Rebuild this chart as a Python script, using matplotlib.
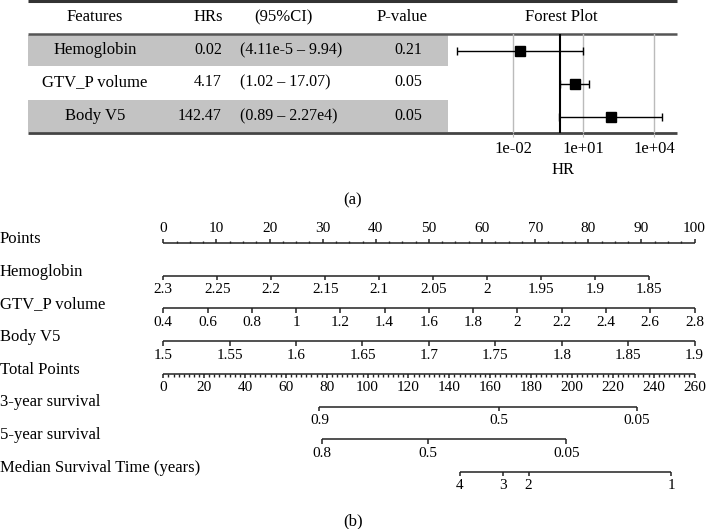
import numpy as np
import matplotlib
matplotlib.use("Agg")
import matplotlib.pyplot as plt
from matplotlib import transforms

plt.rcParams['font.family'] = ['Liberation Serif', 'DejaVu Serif']

# ---------------- data: forest table ----------------
features = ["Hemoglobin", "GTV_P volume", "Body V5"]
hr_values = [0.02, 4.17, 142.47]
ci_low = [4.11e-5, 1.02, 0.89]
ci_high = [9.94, 17.07, 2.27e4]
hr_text = ["0.02", "4.17", "142.47"]
ci_text = ["(4.11e-5 \u2013 9.94)", "(1.02 \u2013 17.07)", "(0.89 \u2013 2.27e4)"]
p_text = ["0.21", "0.05", "0.05"]
forest_ticks = [1e-2, 1e1, 1e4]
forest_ticklabels = ["1e-02", "1e+01", "1e+04"]

# ---------------- data: nomogram ----------------
row_names = ["Points", "Hemoglobin", "GTV_P volume", "Body V5", "Total Points",
             "3-year survival", "5-year survival", "Median Survival Time (years)"]
points_ticks = list(range(0, 101, 10))
hemo_ticks = [2.3, 2.25, 2.2, 2.15, 2.1, 2.05, 2.0, 1.95, 1.9, 1.85]
hemo_range = [2.3, 1.85]
hemo_points = [0.0, 91.5]
gtv_ticks = [0.4, 0.6, 0.8, 1.0, 1.2, 1.4, 1.6, 1.8, 2.0, 2.2, 2.4, 2.6, 2.8]
gtv_range = [0.4, 2.8]
gtv_points = [0.0, 100.0]
bv5_ticks = [1.5, 1.55, 1.6, 1.65, 1.7, 1.75, 1.8, 1.85, 1.9]
bv5_range = [1.5, 1.9]
bv5_points = [0.0, 100.0]
total_ticks = list(range(0, 261, 20))
total_max = 260
surv3_labels = ["0.9", "0.5", "0.05"]
surv3_total = [76.4, 164.1, 231.9]
surv5_labels = ["0.8", "0.5", "0.05"]
surv5_total = [77.6, 129.7, 197.2]
median_labels = ["4", "3", "2", "1"]
median_total = [145.1, 166.2, 178.8, 248.5]

W, H = 707, 529
fig = plt.figure(figsize=(W / 100, H / 100), dpi=100)

FS = 12
NFS = 11
TFS = 11.5
dark = "#222222"

# background axes in pixel space for table layout
bg = fig.add_axes([0, 0, 1, 1])
bg.set_xlim(0, W)
bg.set_ylim(H, 0)
bg.axis('off')

tab_left, tab_right, shade_right = 28, 677, 448
row_y = [50, 82.5, 116]
row_top = [35, 67, 100]
row_h = [31, 32, 32]
for i in (0, 2):
    bg.add_patch(plt.Rectangle((tab_left, row_top[i]), shade_right - tab_left, row_h[i],
                               facecolor="#c3c3c3", edgecolor="none", zorder=0))
bg.hlines(1, tab_left, tab_right, color="#333333", lw=2.2)
bg.hlines(34, tab_left, tab_right, color="#555555", lw=1.8)
bg.hlines(133, tab_left, tab_right, color="#444444", lw=2.0)

hy = 17
bg.text(95, hy, "Features", ha="center", va="center", fontsize=FS)
bg.text(223, hy, "HRs", ha="right", va="center", fontsize=FS)
bg.text(283, hy, "(95%CI)", ha="center", va="center", fontsize=FS)
bg.text(402, hy, "P-value", ha="center", va="center", fontsize=FS)
bg.text(561, hy, "Forest Plot", ha="center", va="center", fontsize=FS)
for i, f in enumerate(features):
    bg.text(95, row_y[i], f, ha="center", va="center", fontsize=FS)
    bg.text(222, row_y[i], hr_text[i], ha="right", va="center", fontsize=TFS)
    bg.text(240, row_y[i], ci_text[i], ha="left", va="center", fontsize=TFS)
    bg.text(408, row_y[i], p_text[i], ha="center", va="center", fontsize=TFS)

bg.text(353, 200, "(a)", ha="center", va="center", fontsize=FS)
bg.text(353, 521, "(b)", ha="center", va="center", fontsize=FS)

# ---------------- forest plot axes ----------------
fx0, fx1, fy0, fy1 = 449, 677, 34, 133
fa = fig.add_axes([fx0 / W, 1 - fy1 / H, (fx1 - fx0) / W, (fy1 - fy0) / H])
fa.patch.set_alpha(0)
fa.set_xscale('log')
fa.set_xlim(10 ** -4.72, 10 ** 4.98)
fa.set_ylim(2.5, -0.5)
for s in fa.spines.values():
    s.set_visible(False)
for t in forest_ticks:
    fa.axvline(t, color="#bbbbbb", lw=1.0, zorder=0)
fa.axvline(1, color="black", lw=1.5, zorder=1)
ypos = np.arange(len(features))
xerr = [np.array(hr_values) - np.array(ci_low), np.array(ci_high) - np.array(hr_values)]
fa.errorbar(hr_values, ypos, xerr=xerr, fmt='s', color="black", ms=7,
            ecolor="black", elinewidth=1.0, capsize=3, capthick=1.0, zorder=3)
fa.set_xticks(forest_ticks)
fa.set_xticklabels(forest_ticklabels, fontsize=FS)
fa.xaxis.set_minor_locator(matplotlib.ticker.NullLocator())
fa.tick_params(axis='x', length=3, color="#bbbbbb", pad=3)
fa.set_yticks([])
fa.set_xlabel("HR", fontsize=FS, labelpad=3)

# ---------------- nomogram axes ----------------
px0, px1 = 163.3, 694.5
ny0, ny1 = 210, 505
row0_pix, row_step = 243, 32.7
na = fig.add_axes([px0 / W, 1 - ny1 / H, (px1 - px0) / W, (ny1 - ny0) / H])
na.patch.set_alpha(0)
na.axis('off')
na.set_xlim(0, 100)
na.set_ylim((ny1 - row0_pix) / row_step, (ny0 - row0_pix) / row_step)

pxr = row_step  # pixels per row unit
tk = 4.5 / pxr   # tick length in row units
lab_off = 14 / pxr
lw = 1.1

lab_tr = transforms.blended_transform_factory(fig.transFigure, na.transData)
for i, name in enumerate(row_names):
    na.text(0.0, i - 4 / pxr, name, transform=lab_tr, ha="left", va="center", fontsize=FS)

def draw_axis(row, pts, labels, down=True, minor=None, minor_len=None):
    pts = np.asarray(pts, dtype=float)
    na.hlines(row, pts.min(), pts.max(), color=dark, lw=lw, clip_on=False)
    sgn = 1 if down else -1
    na.vlines(pts, row, row + sgn * tk, color=dark, lw=lw, clip_on=False)
    if minor is not None:
        na.vlines(minor, row, row + sgn * minor_len, color=dark, lw=lw * 0.9, clip_on=False)
    for p, l in zip(pts, labels):
        na.text(p, row + sgn * lab_off, l, ha="center", va="center", fontsize=NFS, clip_on=False)

# Points
pt_minor = [v for v in np.arange(0, 100.01, 2.5) if v % 10 != 0]
draw_axis(0, points_ticks, [str(v) for v in points_ticks], down=False,
          minor=pt_minor, minor_len=2.2 / pxr)
# Hemoglobin
hemo_pos = np.interp(hemo_ticks, hemo_range[::-1], hemo_points[::-1])
draw_axis(1, hemo_pos, ["%g" % v for v in hemo_ticks])
# GTV_P volume
gtv_pos = np.interp(gtv_ticks, gtv_range, gtv_points)
draw_axis(2, gtv_pos, ["%g" % v for v in gtv_ticks])
# Body V5
bv5_pos = np.interp(bv5_ticks, bv5_range, bv5_points)
draw_axis(3, bv5_pos, ["%g" % v for v in bv5_ticks])
# Total points
scale = 100.0 / total_max
tot_minor = [v * scale for v in np.arange(0, total_max + 0.01, 2.5) if v % 20 != 0]
draw_axis(4, [v * scale for v in total_ticks], [str(v) for v in total_ticks],
          minor=tot_minor, minor_len=tk * 0.75)
# Survival
draw_axis(5, [v * scale for v in surv3_total], surv3_labels)
draw_axis(6, [v * scale for v in surv5_total], surv5_labels)
draw_axis(7, [v * scale for v in median_total], median_labels)

fig.savefig("out.png", dpi=100)
